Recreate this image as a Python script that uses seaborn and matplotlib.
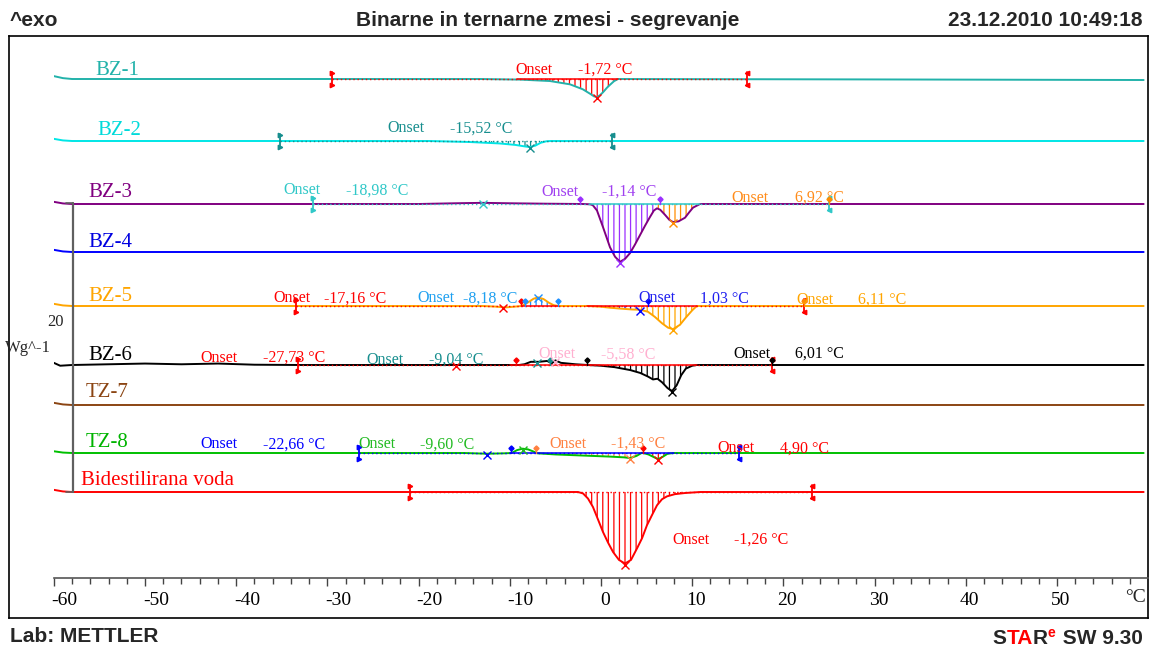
import numpy as np
import pandas as pd
import matplotlib
matplotlib.use("Agg")
import matplotlib.pyplot as plt
import matplotlib.transforms as mtransforms
import seaborn as sns

# ---------------------------------------------------------------- data
temperature_ticks = list(range(-60, 51, 10))
curve_names = ["BZ-1", "BZ-2", "BZ-3", "BZ-4", "BZ-5", "BZ-6", "TZ-7", "TZ-8",
               "Bidestilirana voda"]

# heat flow of each sample relative to its own baseline (W/g, endotherm down)
bz1_temp = [-60, -59, -58, -13.3, -8.9, -5.6, -3.4, -2.0, -1.2, -0.77, -0.44,
            -0.11, 0.22, 0.66, 0.99, 1.43, 1.86, 30, 59.5]
bz1_flow = [0.2, 0.06, 0, 0, -0.04, -0.14, -0.37, -0.71, -1.02, -1.2, -1.25,
            -1.12, -0.92, -0.6, -0.4, -0.15, 0, -0.03, -0.07]

bz2_temp = [-60, -59, -58, -18.8, -14.4, -11.1, -9.4, -8.3, -7.8, -7.2, -6.6,
            -6.0, -5.5, 59.5]
bz2_flow = [0.15, 0.04, 0, 0, -0.07, -0.17, -0.27, -0.38, -0.42, -0.32, -0.12,
            -0.02, 0, 0]

bz3_temp = [-60, -59, -58, -20, -16, -13, -10, -6, -2, -1.2, -0.9, -0.44, 0.22,
            0.99, 1.54, 2.08, 2.63, 3.18, 3.73, 4.28, 4.83, 5.37, 5.8, 6.14,
            6.5, 7.02, 7.5, 7.89, 8.5, 9.21, 9.7, 10.09, 10.86, 59.5]
bz3_flow = [0.15, 0.04, 0, 0, 0.05, 0.08, 0.05, 0.02, 0, -0.02, -0.08, -0.45,
            -1.6, -3.0, -3.65, -4.0, -3.8, -3.4, -2.8, -2.15, -1.5, -0.9,
            -0.45, -0.3, -0.4, -0.75, -1.1, -1.25, -1.2, -0.95, -0.55, -0.25,
            0, 0]

bz4_temp = [-60, -59, -58, 59.5]
bz4_flow = [0.15, 0.04, 0, 0]

bz5_temp = [-60, -59, -58, -13, -11.6, -10.5, -9.4, -8.7, -8.0, -7.4, -6.9,
            -6.3, -5.7, -5.2, -4.7, -1.5, 0, 1.0, 2.1, 3.4, 4.3, 5.15, 5.9,
            6.7, 7.35, 7.9, 8.66, 9.3, 10.0, 10.5, 59.5]
bz5_flow = [0.15, 0.04, 0, 0, -0.04, -0.1, -0.04, 0, 0.25, 0.5, 0.6, 0.48,
            0.22, 0.06, 0, 0, -0.05, -0.12, -0.18, -0.24, -0.26, -0.4, -0.75,
            -1.2, -1.5, -1.6, -1.3, -0.8, -0.3, 0, 0]

bz6_temp = [-60, -59.3, -58, -54, -50, -46, -42, -38, -33, -9, -8.4, -7.7,
            -6.8, -5.9, -5.4, -5.0, -4.4, -2.8, -1.5, 0, 1.5, 3.2, 4.3, 5.15,
            5.7, 6.2, 6.7, 7.3, 7.8, 8.3, 8.8, 9.3, 10.0, 10.5, 59.5]
bz6_flow = [0.15, -0.05, 0, 0.05, 0.1, 0.05, 0.1, 0.02, 0, 0, 0.05, 0.22,
            0.22, 0.28, 0.12, 0.32, 0.15, 0.05, 0, -0.05, -0.15, -0.35, -0.55,
            -0.8, -1.0, -0.95, -1.2, -1.6, -1.8, -1.4, -0.7, -0.25, -0.05, 0, 0]

tz7_temp = [-60, -59, -58, 59.5]
tz7_flow = [0.15, 0.04, 0, 0]

tz8_temp = [-60, -59, -58, -15, -12.5, -10.5, -9.8, -9.2, -8.6, -8.0, -7.4,
            -7.0, -5.0, -3.0, -1.0, 1.0, 2.5, 3.2, 3.9, 4.5, 5.2, 6.0, 6.3,
            6.8, 7.3, 8.0, 59.5]
tz8_flow = [0.12, 0.03, 0, 0, -0.05, -0.02, 0, 0.2, 0.3, 0.25, 0.1, -0.02,
            -0.1, -0.15, -0.2, -0.25, -0.3, -0.35, -0.2, 0.02, -0.1, -0.35,
            -0.42, -0.25, -0.05, 0, 0]

water_temp = [-60, -59, -58, -2.52, -1.97, -1.43, -0.88, -0.33, 0.22, 0.77,
              1.32, 1.97, 2.63, 3.29, 3.95, 4.5, 5.04, 5.59, 6.14, 6.69, 7.24,
              8.1, 9.2, 10.9, 59.5]
water_flow = [0.15, 0.04, 0, 0, -0.1, -0.45, -1.04, -1.9, -2.77, -3.5, -4.15,
              -4.7, -4.95, -4.7, -3.9, -3.2, -2.3, -1.6, -0.92, -0.5, -0.3,
              -0.15, -0.07, 0, 0]

# evaluated onset temperatures (°C) and the curve each belongs to
onset_temps = [-1.72, -15.52, -18.98, -1.14, 6.92, -17.16, -8.18, 1.03, 6.11,
               -27.73, -9.04, -5.58, 6.01, -22.66, -9.60, -1.43, 4.90, -1.26]
onset_curve = [0, 1, 2, 2, 2, 4, 4, 4, 4, 5, 5, 5, 5, 7, 7, 7, 7, 8]

scale_bar_value = 20  # W/g

# ---------------------------------------------------------------- styling
curve_colors = ["#22B2AA", "#00E6E6", "#800080", "#0000FF", "#FFA500",
                "#000000", "#8B4513", "#00C000", "#FF0000"]
label_colors = ["#22B2AA", "#00DADA", "#800080", "#0000E0", "#FFA500",
                "#000000", "#8B4513", "#00B400", "#FF0000"]
onset_colors = ["#FF0000", "#178E8E", "#30C8C8", "#A040F0", "#FF8C1A",
                "#FF0000", "#1EA0F0", "#2020F0", "#FFA500", "#FF0000",
                "#178E8E", "#FFB0D0", "#000000", "#0000FF", "#22BB22",
                "#FF8040", "#FF0000", "#FF0000"]

RED, TEAL, LTEAL = "#FF0000", "#178E8E", "#30C8C8"
PURP, ORNG, LBLUE = "#9B30FF", "#FF8C00", "#1E90FF"

# pixel geometry of the drawing
X0_PX, DEG_PX = 601.0, 9.12      # x pixel of 0 °C, pixels per °C
AX_PX, WG_PX = 578.0, 14.45      # y pixel of the temperature axis, pixels per W/g
W, H = 1156, 647
TEXT_DROP = 2.5                  # text centre sits a little below its nominal row


def tx(xp):
    return (xp - X0_PX) / DEG_PX


def vy(yp):
    return (AX_PX - yp) / WG_PX


def vt(yp):
    return vy(yp + TEXT_DROP)


baseline_px = [79, 141, 204, 252, 306, 365, 405, 453, 492]
offsets = [vy(p) for p in baseline_px]

curves = [(bz1_temp, bz1_flow), (bz2_temp, bz2_flow), (bz3_temp, bz3_flow),
          (bz4_temp, bz4_flow), (bz5_temp, bz5_flow), (bz6_temp, bz6_flow),
          (tz7_temp, tz7_flow), (tz8_temp, tz8_flow), (water_temp, water_flow)]

name_pos = [(95, 68), (97, 128), (88, 190), (88, 240), (88, 294), (88, 353),
            (86, 390), (86, 440), (81, 478)]

onset_pos = [(515, 578, 67), (387, 450, 126), (283, 346, 188), (541, 602, 189),
             (731, 795, 195), (273, 324, 296), (417, 463, 296), (638, 700, 296),
             (796, 858, 297), (200, 263, 355), (366, 429, 357), (538, 601, 352),
             (733, 795, 351), (200, 263, 442), (358, 420, 442), (549, 611, 441),
             (717, 780, 446), (672, 734, 537)]

# hatched peak areas: curve, from, to, colour
hatch_regions = [(0, -12, 1.9, RED), (1, -16.5, -5.5, TEAL),
                 (2, -1.2, 6.14, PURP), (2, 6.14, 10.86, ORNG),
                 (4, -8.7, -4.7, LBLUE), (4, -1.5, 4.3, "#0000FF"),
                 (4, 4.3, 10.5, "#FFA500"), (5, -1.5, 10.5, "#000000"),
                 (7, -3.5, 4.5, "#FF8040"), (7, 4.5, 7.5, RED),
                 (8, -2.52, 10.9, RED)]

# integration limits / dotted baselines: curve, left, right, colour
limits = [(0, -29.5, 16.0, RED), (1, -35.2, 1.2, TEAL), (2, -31.6, 25.0, LTEAL),
          (4, -33.4, 22.3, RED), (5, -33.2, 18.7, RED), (7, -26.5, 15.1, "#0000FF"),
          (8, -20.9, 23.1, RED)]
solid_baselines = [(0, -9.2, 1.9, RED), (2, -1.2, 10.9, LTEAL),
                   (4, -8.7, -4.7, RED), (4, -1.5, 10.5, RED),
                   (5, -10, 10.5, RED), (7, -10, 8.0, "#0000FF")]

# onset pins: curve, temperature, colour
pins = [(2, -2.3, PURP), (2, 6.5, PURP), (2, 25.0, ORNG),
        (4, -8.8, RED), (4, -8.3, LBLUE), (4, -4.7, LBLUE), (4, 5.2, "#0000FF"),
        (4, 22.3, ORNG), (5, -9.3, RED), (5, -5.6, TEAL), (5, -1.5, "#000000"),
        (5, 18.7, "#000000"), (7, -9.9, "#0000FF"), (7, -7.1, "#FF8040"),
        (7, 4.6, RED)]

# peak markers: curve, temperature, colour
peak_marks = [(0, -0.44, RED), (1, -7.8, TEAL), (2, -12.9, LTEAL),
              (2, 2.08, PURP), (2, 7.89, ORNG), (4, -10.7, RED),
              (4, -6.9, LBLUE), (4, 4.3, "#0000FF"), (4, 7.9, "#FFA500"),
              (5, -15.9, RED), (5, -7.0, TEAL), (5, -5.0, "#FFB0D0"),
              (5, 7.8, "#000000"), (7, -12.5, "#0000FF"), (7, -8.6, "#22BB22"),
              (7, 3.2, "#FF8040"), (7, 6.3, RED), (8, 2.63, RED)]

# ---------------------------------------------------------------- figure
sns.set_theme(style="white")
plt.rcParams["font.family"] = ["Liberation Serif", "DejaVu Serif"]
plt.rcParams["hatch.linewidth"] = 0.9

fig = plt.figure(figsize=(W / 100, H / 100), dpi=100)

# outer frame
frame = fig.add_axes([9 / W, (H - 618) / H, (1148 - 9) / W, (618 - 36) / H])
frame.set_xticks([])
frame.set_yticks([])
for s in frame.spines.values():
    s.set_color("black")
    s.set_linewidth(1.2)
frame.set_facecolor("white")

ax = fig.add_axes([53.8 / W, (H - AX_PX) / H, (1148 - 53.8) / W, (AX_PX - 36) / H])
ax.patch.set_alpha(0)

# hatched peak areas
for ci, t0, t1, col in hatch_regions:
    T, q = curves[ci]
    ts = np.linspace(t0, t1, 300)
    qs = np.interp(ts, T, q)
    ax.fill_between(ts, offsets[ci], offsets[ci] + qs, facecolor="none",
                    edgecolor=col, linewidth=0, hatch="|||", zorder=1)

# curves
for ci, (T, q) in enumerate(curves):
    df = pd.DataFrame({"T": T, "q": np.asarray(q) + offsets[ci]})
    sns.lineplot(data=df, x="T", y="q", ax=ax, color=curve_colors[ci],
                 linewidth=1.4, sort=False, estimator=None, zorder=2)
    xp, yp = name_pos[ci]
    ax.text(tx(xp), vt(yp), curve_names[ci], color=label_colors[ci],
            fontsize=15, ha="left", va="center", clip_on=False, zorder=5)

ax.set_xlabel("")
ax.set_ylabel("")
ax.set_xlim(-60, tx(1148))
ax.set_ylim(0, vy(36))
for side in ("left", "right", "top"):
    ax.spines[side].set_visible(False)
ax.spines["bottom"].set_color("#555555")
ax.spines["bottom"].set_linewidth(1.2)
ax.set_yticks([])
ax.set_xticks(temperature_ticks)
ax.set_xticklabels([str(t) for t in temperature_ticks])
ax.set_xticks(np.arange(-58, 59, 2), minor=True)
ax.tick_params(axis="x", which="major", direction="out", length=6, width=1,
               color="#444444", labelsize=14, pad=4, labelcolor="black", bottom=True)
ax.tick_params(axis="x", which="minor", direction="out", length=4, width=1,
               color="#444444", bottom=True)
# tick labels sit slightly to the right of their ticks
for t, lab in zip(temperature_ticks, ax.get_xticklabels()):
    shift = 11 if t < 0 else 4
    lab.set_transform(lab.get_transform() + mtransforms.ScaledTranslation(
        shift / 100, 0, fig.dpi_scale_trans))
ax.annotate("°C", xy=(tx(1136), 0), xytext=(0, -20), textcoords="offset pixels",
            ha="center", va="center", fontsize=14, annotation_clip=False)

# integration baselines and limit brackets
for ci, t0, t1, col in limits:
    y0 = offsets[ci] + 0.03
    ax.plot([t0, t1], [y0, y0], color=col, lw=1.0, ls=(0, (1, 2)), zorder=3)
    for t, mk in ((t0, ">"), (t1, "<")):
        ax.plot([t, t], [offsets[ci] - 0.45, offsets[ci] + 0.45], color=col,
                lw=1.3, zorder=4)
        ax.plot([t, t], [offsets[ci] - 0.42, offsets[ci] + 0.42], ls="none",
                marker=mk, ms=3.2, color=col, zorder=4)
for ci, t0, t1, col in solid_baselines:
    ax.plot([t0, t1], [offsets[ci], offsets[ci]], color=col, lw=1.1, zorder=3)

# onset pins
for ci, t, col in pins:
    ax.plot([t, t], [offsets[ci], offsets[ci] + 0.35], color=col, lw=1.0, zorder=4)
    ax.plot([t], [offsets[ci] + 0.38], marker="D", ms=2.6, color=col, zorder=4)

# peak markers
for ci, t, col in peak_marks:
    T, q = curves[ci]
    y = offsets[ci] + np.interp(t, T, q) - 0.08
    ax.plot([t], [y], marker="x", ms=6, mew=1.0, color=col, ls="none", zorder=4)

# onset annotations
for k, val in enumerate(onset_temps):
    xw, xv, yp = onset_pos[k]
    col = onset_colors[k]
    ax.text(tx(xw), vt(yp), "Onset", color=col, fontsize=11.5, ha="left",
            va="center", zorder=6)
    ax.text(tx(xv), vt(yp), f"{val:.2f}".replace(".", ",") + " °C", color=col,
            fontsize=11.5, ha="left", va="center", zorder=6)

# scale bar for the heat flow
bar_x = tx(73)
y_lo = offsets[8]
y_hi = y_lo + scale_bar_value
ax.plot([bar_x, bar_x], [y_lo, y_hi], color="#606060", lw=1.6, clip_on=False)
for yb in (y_lo, y_hi):
    ax.plot([tx(66), bar_x], [yb, yb], color="#606060", lw=1.2, clip_on=False)
ax.text(tx(56), vt(320), str(scale_bar_value), fontsize=12, ha="center",
        va="center", clip_on=False)
ax.text(tx(28), vt(345), "Wg^-1", fontsize=12, ha="center", va="center",
        clip_on=False)

# header and footer
hdr = dict(family=["Liberation Sans", "DejaVu Sans"], weight="bold", fontsize=15)
fig.text(10 / W, 1 - 21 / H, "^exo", ha="left", va="center", **hdr)
fig.text(548 / W, 1 - 21 / H, "Binarne in ternarne zmesi - segrevanje",
         ha="center", va="center", **hdr)
fig.text(1143 / W, 1 - 21 / H, "23.12.2010 10:49:18", ha="right", va="center",
         **hdr)
fig.text(10 / W, 1 - 637 / H, "Lab: METTLER", ha="left", va="center", **hdr)

sw = fig.text(1143 / W, 1 - 644 / H, " SW 9.30", ha="right", va="baseline", **hdr)
e_txt = plt.annotate("e", xy=(0, 1), xycoords=sw, xytext=(-1, 2),
                     textcoords="offset points", ha="right", va="top",
                     color="red", family=["Liberation Sans", "DejaVu Sans"],
                     weight="bold", fontsize=10, annotation_clip=False)
r_txt = plt.annotate("R", xy=(0, 0), xycoords=(e_txt, sw), ha="right",
                     va="bottom", annotation_clip=False, **hdr)
ta_txt = plt.annotate("TA", xy=(0, 0), xycoords=(r_txt, sw), ha="right",
                      va="bottom", color="red", annotation_clip=False, **hdr)
plt.annotate("S", xy=(0, 0), xycoords=(ta_txt, sw), ha="right", va="bottom",
             annotation_clip=False, **hdr)

fig.savefig("out.png", dpi=100)
